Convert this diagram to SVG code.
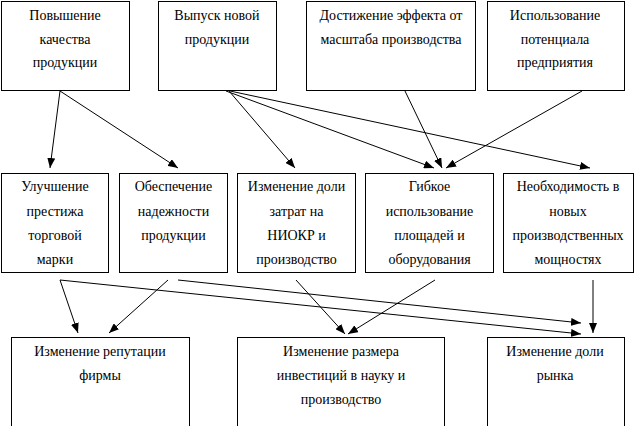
<svg xmlns="http://www.w3.org/2000/svg" width="635" height="426" viewBox="0 0 635 426" font-family="'Liberation Serif', 'Times New Roman', serif">
<style>
.box{fill:#fff;stroke:#000;stroke-width:1}
text{font-family:'Liberation Serif','Times New Roman',serif;font-size:14px;fill:#000;text-anchor:middle}
.conn line{stroke:#000;stroke-width:1;marker-end:url(#ah)}
</style>
<defs>
<marker id="ah" viewBox="0 0 10 8" refX="10" refY="4" markerWidth="10" markerHeight="8" markerUnits="userSpaceOnUse" orient="auto">
<path d="M0,0 L10,4 L0,8 Z" fill="#000"/>
</marker>
</defs>
<rect width="635" height="426" fill="#fff"/>
<g id="n1"><rect class="box" x="1.5" y="1.5" width="128" height="89"/>
<text x="65" y="20">Повышение</text><text x="65" y="44">качества</text><text x="65" y="67">продукции</text></g>
<g id="n2"><rect class="box" x="158.5" y="1.5" width="118" height="89"/>
<text x="217" y="20">Выпуск новой</text><text x="217" y="44">продукции</text></g>
<g id="n3"><rect class="box" x="306.5" y="1.5" width="169" height="89"/>
<text x="391" y="20">Достижение эффекта от</text><text x="391" y="44">масштаба производства</text></g>
<g id="n4"><rect class="box" x="487.5" y="1.5" width="137" height="89"/>
<text x="555" y="20">Использование</text><text x="555" y="44">потенциала</text><text x="555" y="67">предприятия</text></g>
<g id="m1"><rect class="box" x="1.5" y="173.5" width="107" height="99"/>
<text x="55" y="191">Улучшение</text><text x="55" y="216">престижа</text><text x="55" y="240">торговой</text><text x="55" y="264">марки</text></g>
<g id="m2"><rect class="box" x="119.5" y="173.5" width="108" height="99"/>
<text x="173.5" y="191">Обеспечение</text><text x="173.5" y="216">надежности</text><text x="173.5" y="240">продукции</text></g>
<g id="m3"><rect class="box" x="237.5" y="173.5" width="118" height="99"/>
<text x="296.5" y="191">Изменение доли</text><text x="296.5" y="216">затрат на</text><text x="296.5" y="240">НИОКР и</text><text x="296.5" y="264">производство</text></g>
<g id="m4"><rect class="box" x="365.5" y="173.5" width="128" height="99"/>
<text x="429.5" y="191">Гибкое</text><text x="429.5" y="216">использование</text><text x="429.5" y="240">площадей и</text><text x="429.5" y="264">оборудования</text></g>
<g id="m5"><rect class="box" x="503.5" y="173.5" width="130" height="99"/>
<text x="568" y="191">Необходимость в</text><text x="568" y="216">новых</text><text x="568" y="240">производственных</text><text x="568" y="264">мощностях</text></g>
<g id="b1"><rect class="box" x="11.5" y="337.5" width="178" height="100"/>
<text x="100" y="356">Изменение репутации</text><text x="100" y="380">фирмы</text></g>
<g id="b2"><rect class="box" x="237.5" y="337.5" width="207" height="100"/>
<text x="341" y="356">Изменение размера</text><text x="341" y="380">инвестиций в науку и</text><text x="341" y="404">производство</text></g>
<g id="b3"><rect class="box" x="487.5" y="337.5" width="137" height="100"/>
<text x="555" y="356">Изменение доли</text><text x="555" y="380">рынка</text></g>
<g class="conn" id="connectors">
<line x1="60" y1="91" x2="50" y2="168"/>
<line x1="60" y1="91" x2="178" y2="168"/>
<line x1="229" y1="91" x2="295" y2="168"/>
<line x1="226" y1="91" x2="434" y2="168"/>
<line x1="230" y1="91" x2="590" y2="168"/>
<line x1="405" y1="91" x2="442" y2="168"/>
<line x1="582" y1="91" x2="446" y2="168"/>
<line x1="60" y1="280" x2="78" y2="333"/>
<line x1="168" y1="280" x2="109" y2="333"/>
<line x1="178" y1="280" x2="581" y2="323"/>
<line x1="60" y1="280" x2="581" y2="334"/>
<line x1="296" y1="280" x2="345" y2="334"/>
<line x1="435" y1="280" x2="348" y2="334"/>
<line x1="593" y1="280" x2="593" y2="333"/>
</g>
</svg>
